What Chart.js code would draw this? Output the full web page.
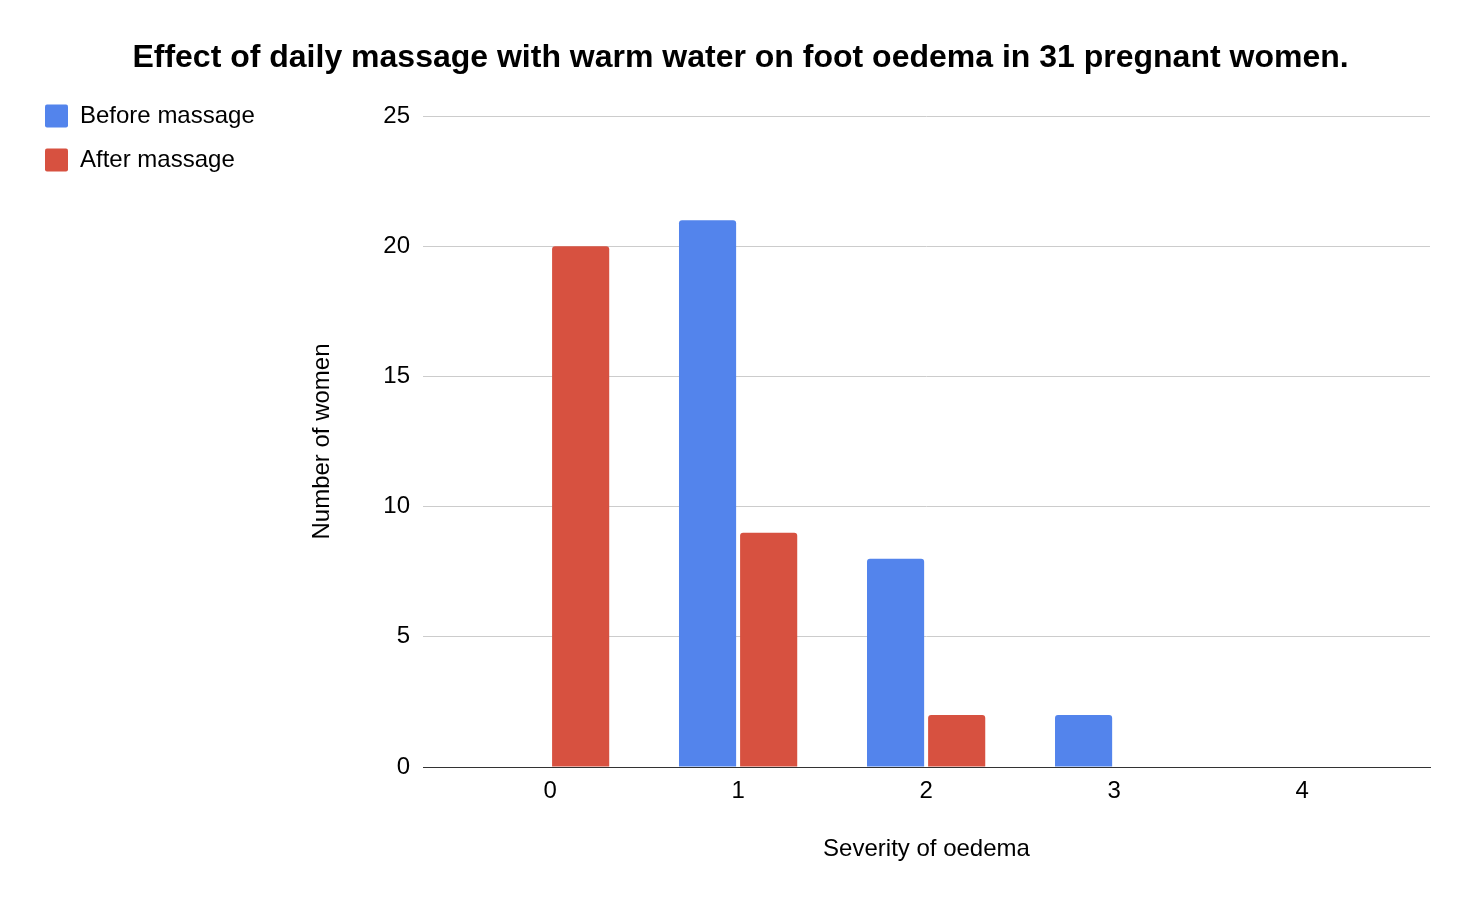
<!DOCTYPE html>
<html lang="en">
<head>
<meta charset="UTF-8">
<title>Foot oedema</title>
<script src="https://cdn.jsdelivr.net/npm/chart.js"></script>
<style>
    html, body { margin: 0; padding: 0; background: #fff; }
    #wrap { width: 1474px; height: 906px; position: relative; }
</style>
</head>
<body>
<div id="wrap"><canvas id="myChart"></canvas></div>

<script>
    // severity of oedema (x axis)
    var severity = [0, 1, 2, 3, 4];
    // number of women in each severity group
    var beforeMassage = [0, 21, 8, 2, 0];
    var afterMassage = [20, 9, 2, 0, 0];
    // y axis ticks
    var yTicks = [0, 5, 10, 15, 20, 25];

    Chart.defaults.font.family = "'Liberation Sans', Arial, sans-serif";
    Chart.defaults.color = "#000000";

    // put the legend up in the top left corner, outside the plot
    const moveLegend = {
        id: 'moveLegend',
        afterLayout(chart) {
            const lg = chart.legend;
            lg.left = 25;
            lg.top = 84;
            lg.width = 320;
            lg.height = 200;
            lg.right = lg.left + lg.width;
            lg.bottom = lg.top + lg.height;
        }
    };

    const data = {
        labels: severity,
        datasets: [{
            label: 'Before massage',
            data: beforeMassage,
            backgroundColor: '#5384ec',
            borderRadius: 3
        }, {
            label: 'After massage',
            data: afterMassage,
            backgroundColor: '#d75140',
            borderRadius: 3
        }]
    };

    const config = {
        type: 'bar',
        data: data,
        plugins: [moveLegend],
        options: {
            responsive: true,
            maintainAspectRatio: false,
            animation: false,
            categoryPercentage: 0.65,
            barPercentage: 0.935,
            layout: {
                padding: { left: 51, right: 44, top: 0, bottom: 0 }
            },
            plugins: {
                title: {
                    display: true,
                    text: 'Effect of daily massage with warm water on foot oedema in 31 pregnant women.',
                    color: '#000000',
                    font: { size: 32, weight: 'bold' },
                    padding: { top: 39, bottom: 38.6 }
                },
                legend: {
                    position: 'chartArea',
                    align: 'start',
                    labels: {
                        boxWidth: 23,
                        boxHeight: 23,
                        padding: 20,
                        useBorderRadius: true,
                        borderRadius: 2,
                        color: '#000000',
                        font: { size: 24 }
                    }
                },
                tooltip: { enabled: false }
            },
            scales: {
                x: {
                    type: 'linear',
                    offset: false,
                    min: -0.676,
                    max: 4.68,
                    grid: { display: false, drawTicks: false },
                    border: { display: true, color: '#333333', width: 1 },
                    ticks: {
                        stepSize: 1,
                        includeBounds: false,
                        padding: 10,
                        font: { size: 24 }
                    },
                    title: {
                        display: true,
                        text: 'Severity of oedema',
                        font: { size: 24 },
                        padding: { top: 0, bottom: 42 }
                    },
                    afterFit: function (scale) {
                        scale.height = 139;
                    }
                },
                y: {
                    min: yTicks[0],
                    max: yTicks[yTicks.length - 1],
                    grid: { color: '#cccccc', lineWidth: 1, drawTicks: false },
                    border: { display: false },
                    ticks: {
                        stepSize: yTicks[1] - yTicks[0],
                        padding: 13,
                        font: { size: 24 }
                    },
                    title: {
                        display: true,
                        text: 'Number of women',
                        font: { size: 24 },
                        padding: { top: 256.6, bottom: 0 }
                    },
                    afterFit: function (scale) {
                        scale.width = 372;
                    }
                }
            }
        }
    };

    const myChart = new Chart(document.getElementById('myChart'), config);
</script>
</body>
</html>
